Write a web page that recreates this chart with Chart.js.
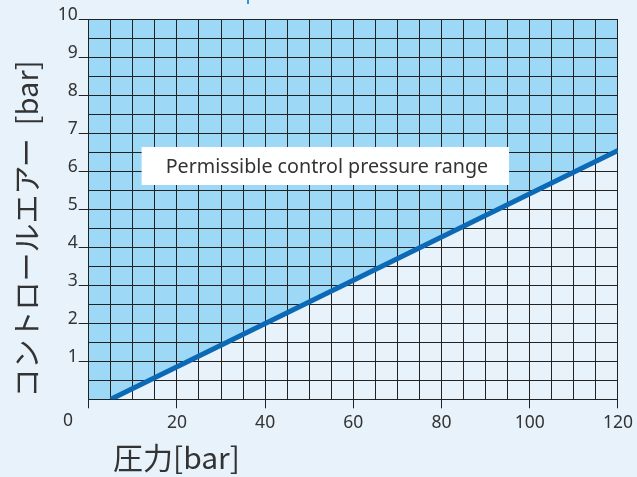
<!DOCTYPE html>
<html lang="ja">
<head>
  <meta charset="UTF-8"/>
  <title>コントロールエアー</title>
  <script src="https://cdn.jsdelivr.net/npm/chart.js"></script>
  <style>
    html, body { margin: 0; padding: 0; background: #e8f2fb; }
    #wrap { width: 637px; height: 477px; }
  </style>
</head>
<body>
  <div id="wrap"><canvas id="chart" width="637" height="477"></canvas></div>

  <script>
    // boundary line: pilot pressure vs. pressure
    const lineX = [5, 120];
    const lineY = [0, 6.55];
    // region above the boundary (shaded blue)
    const areaX = [0, 5, 120];
    const areaY = [0, 0, 6.55];

    const xTickLabels = [20, 40, 60, 80, 100, 120];
    const yTickLabels = [1, 2, 3, 4, 5, 6, 7, 8, 9, 10];

    const boxText = 'Permissible control pressure range';
    const xTitle = '圧力[bar]';
    const yTitle = 'コントロールエアー  [bar]';

    const gridColor = '#222';
    const textColor = '#333';

    Chart.defaults.font.family = "'Noto Sans', sans-serif";
    Chart.defaults.font.size = 17.5;
    Chart.defaults.color = textColor;

    const toPts = (xs, ys) => xs.map((x, i) => ({ x, y: ys[i] }));

    const overlay = {
      id: 'overlay',
      afterDatasetsDraw(chart) {
        const { ctx, scales: { x, y } } = chart;
        ctx.save();
        // white label box
        const bx0 = x.getPixelForValue(12), bx1 = x.getPixelForValue(95.3);
        const by0 = y.getPixelForValue(6.64), by1 = y.getPixelForValue(5.64);
        ctx.fillStyle = '#fff';
        ctx.fillRect(bx0, by0, bx1 - bx0, by1 - by0);
        ctx.fillStyle = textColor;
        ctx.font = "19.7px 'Noto Sans'";
        ctx.textAlign = 'left';
        ctx.textBaseline = 'middle';
        ctx.fillText(boxText, bx0 + 24, (by0 + by1) / 2 + 1);
        ctx.restore();
      },
      afterDraw(chart) {
        const { ctx } = chart;
        ctx.save();
        ctx.fillStyle = textColor;
        // corner zero
        ctx.font = "17.5px 'Noto Sans'";
        ctx.textAlign = 'center';
        ctx.textBaseline = 'middle';
        ctx.fillText('0', 68, 421);
        // x title
        ctx.font = "30px 'Noto Sans CJK JP'";
        ctx.textAlign = 'left';
        ctx.fillText(xTitle, 113, 458);
        // y title
        ctx.font = "29px 'Noto Sans CJK JP'";
        ctx.translate(27, 229);
        ctx.rotate(-Math.PI / 2);
        ctx.textAlign = 'center';
        ctx.fillText(yTitle, 0, 0);
        ctx.restore();
        // small cut-off mark at top
        ctx.save();
        ctx.strokeStyle = '#3b8ed8';
        ctx.lineWidth = 2;
        ctx.beginPath();
        ctx.moveTo(248, 0);
        ctx.lineTo(248, 4);
        ctx.stroke();
        ctx.restore();
      }
    };

    new Chart(document.getElementById('chart'), {
      type: 'line',
      data: {
        datasets: [
          {
            data: toPts(areaX, areaY),
            borderWidth: 0,
            pointRadius: 0,
            fill: 'end',
            backgroundColor: '#9dd9f6'
          },
          {
            data: toPts(lineX, lineY),
            borderColor: '#0b69b5',
            borderWidth: 5,
            borderCapStyle: 'butt',
            pointRadius: 0,
            fill: false,
            clip: 0
          }
        ]
      },
      options: {
        responsive: false,
        animation: false,
        layout: { padding: { left: 0, top: 19.3, right: 14.3, bottom: 0 } },
        plugins: {
          legend: { display: false },
          tooltip: { enabled: false },
          filler: { drawTime: 'beforeDraw' }
        },
        scales: {
          x: {
            type: 'linear',
            min: 0,
            max: 120,
            afterFit: s => { s.height = 77.7; },
            border: { color: gridColor, width: 1 },
            grid: {
              color: gridColor,
              lineWidth: 1,
              tickLength: 9,
              tickColor: c => xTickLabels.includes(c.tick && c.tick.value) || (c.tick && c.tick.value === 0) ? gridColor : 'transparent'
            },
            ticks: {
              stepSize: 5,
              autoSkip: false,
              maxRotation: 0,
              padding: 4,
              color: textColor,
              callback: v => xTickLabels.includes(v) ? String(v) : ''
            }
          },
          y: {
            min: 0,
            max: 10,
            afterFit: s => { s.width = 88.7; },
            border: { color: gridColor, width: 1 },
            grid: {
              color: gridColor,
              lineWidth: 1,
              tickLength: 10,
              tickColor: c => yTickLabels.includes(c.tick && c.tick.value) ? gridColor : 'transparent'
            },
            ticks: {
              stepSize: 0.5,
              autoSkip: false,
              padding: 1,
              labelOffset: -4,
              color: textColor,
              callback: v => yTickLabels.includes(v) ? String(v) : ''
            }
          }
        }
      },
      plugins: [overlay]
    });
  </script>
</body>
</html>
